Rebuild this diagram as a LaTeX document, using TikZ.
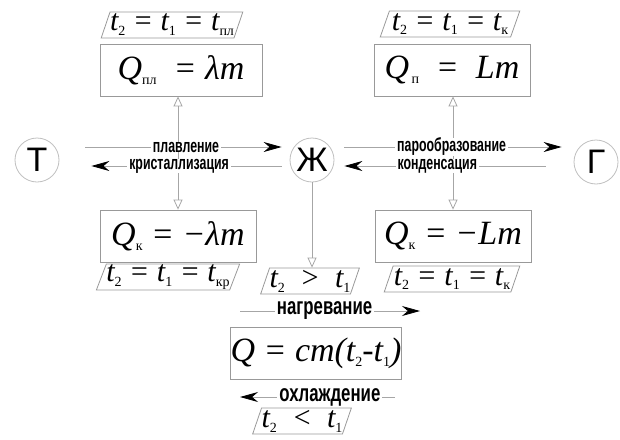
\documentclass[tikz,border=0pt]{standalone}
\usepackage{fontspec}
\setmainfont{Liberation Serif}
\newfontfamily\lblfont[FakeStretch=0.65]{Liberation Sans}
\newfontfamily\widelblfont[FakeStretch=0.7]{Liberation Sans}
\newfontfamily\phasefont{Liberation Sans}
\usetikzlibrary{arrows.meta,shapes.geometric}
\newcommand{\lo}[1]{\raisebox{-0.35ex}{\upshape\fontsize{7}{7}\selectfont #1}}

\begin{document}
\begin{tikzpicture}[x=0.5pt,y=-0.5pt,
  phase/.style={draw=gray!50, circle, minimum size=22pt, inner sep=0pt, font=\phasefont\fontsize{17}{17}\selectfont},
  heat/.style={draw=gray!80, rectangle, inner sep=0pt, minimum width=78pt, minimum height=26pt, font=\fontsize{17}{17}\selectfont\itshape},
  cond/.style={draw=gray!80, trapezium, trapezium left angle=68, trapezium right angle=112, trapezium stretches=true, inner sep=0pt, minimum width=68pt, minimum height=13pt, font=\fontsize{15}{15}\selectfont\itshape},
  lbl/.style={fill=white, inner xsep=1pt, inner ysep=0pt, font=\lblfont\bfseries\fontsize{9.5}{9.5}\selectfont},
  biglbl/.style={lbl, font=\widelblfont\bfseries\fontsize{12}{12}\selectfont},
  flow/.style={draw=gray!70, -{Stealth[length=9pt,width=5pt,color=black]}},
  rise/.style={draw=gray!70, -{Triangle[open,length=5pt,width=4.5pt]}},
]
\useasboundingbox (0,0) rectangle (620,439);

% phases
\node[phase] (T) at (37,160) {Т};
\node[phase] (Zh) at (312,160) {Ж};
\node[phase] (G) at (596,162) {Г};

% heat of transition
\node[heat, minimum width=81pt] (Qpl) at (181,70) {Q\lo{пл} \ = λm};
\node[cond] (tpl) at (172,25) {t\lo{2} = t\lo{1} = t\lo{пл}};
\node[heat] (Qp) at (452,70) {Q\lo{\,п} \ = \ Lm};
\node[cond, minimum width=70pt] (tp) at (450,24) {t\lo{2} = t\lo{1} = t\lo{к}};
\node[heat] (Qkl) at (178,236) {Q\lo{к} = −λm};
\node[cond] (tkr) at (168,277) {t\lo{2} = t\lo{1} = t\lo{кр}};
\node[heat] (QkL) at (453,236) {Q\lo{к} = −Lm};
\node[cond] (tk) at (452,279) {t\lo{2} = t\lo{1} = t\lo{к}};

% heating and cooling
\node[cond, minimum width=45pt] (hot) at (310,281) {t\lo{2} \ > \ t\lo{1}};
\node[heat] (Qcm) at (316,353) {Q = cm(t\lo{2}-t\lo{1})};
\node[cond, minimum width=42pt] (cold) at (302,421) {t\lo{2} \ < \ t\lo{1}};

\coordinate (mL) at (178,156);
\coordinate (mR) at (453,156);
\draw[rise] (mL) -- (mL |- Qpl.south);
\draw[rise] (mL) -- (mL |- Qkl.north);
\draw[rise] (mR) -- (mR |- Qp.south);
\draw[rise] (mR) -- (mR |- QkL.north);
\draw[rise] (Zh.south) -- (Zh.south |- hot.north);

\draw[flow, shorten <=13pt, shorten >=4pt] ([yshift=6.5pt]T.east) -- ([yshift=6.5pt]Zh.west)
  node[lbl, pos=0.55] {плавление};
\draw[flow, shorten <=4pt, shorten >=16pt] ([yshift=-3pt]Zh.west) -- ([yshift=-3pt]T.east)
  node[lbl, pos=0.48] {кристаллизация};
\draw[flow, shorten <=5pt, shorten >=6pt] ([yshift=6.5pt]Zh.east) -- ([yshift=6.5pt]Zh.east -| G.west)
  node[lbl, pos=0.49] {парообразование};
\draw[flow, shorten <=14pt, shorten >=5pt] ([yshift=-3pt]Zh.east -| G.west) -- ([yshift=-3pt]Zh.east)
  node[lbl, pos=0.57] {конденсация};

\coordinate (hL) at (240,311);
\coordinate (hR) at (420,311);
\coordinate (cR) at (395,397);
\coordinate (cL) at (240,397);
\draw[flow] (hL) -- (hR) node[biglbl, pos=0.47] {нагревание};
\draw[flow] (cR) -- (cL) node[biglbl, pos=0.42] {охлаждение};
\end{tikzpicture}
\end{document}
